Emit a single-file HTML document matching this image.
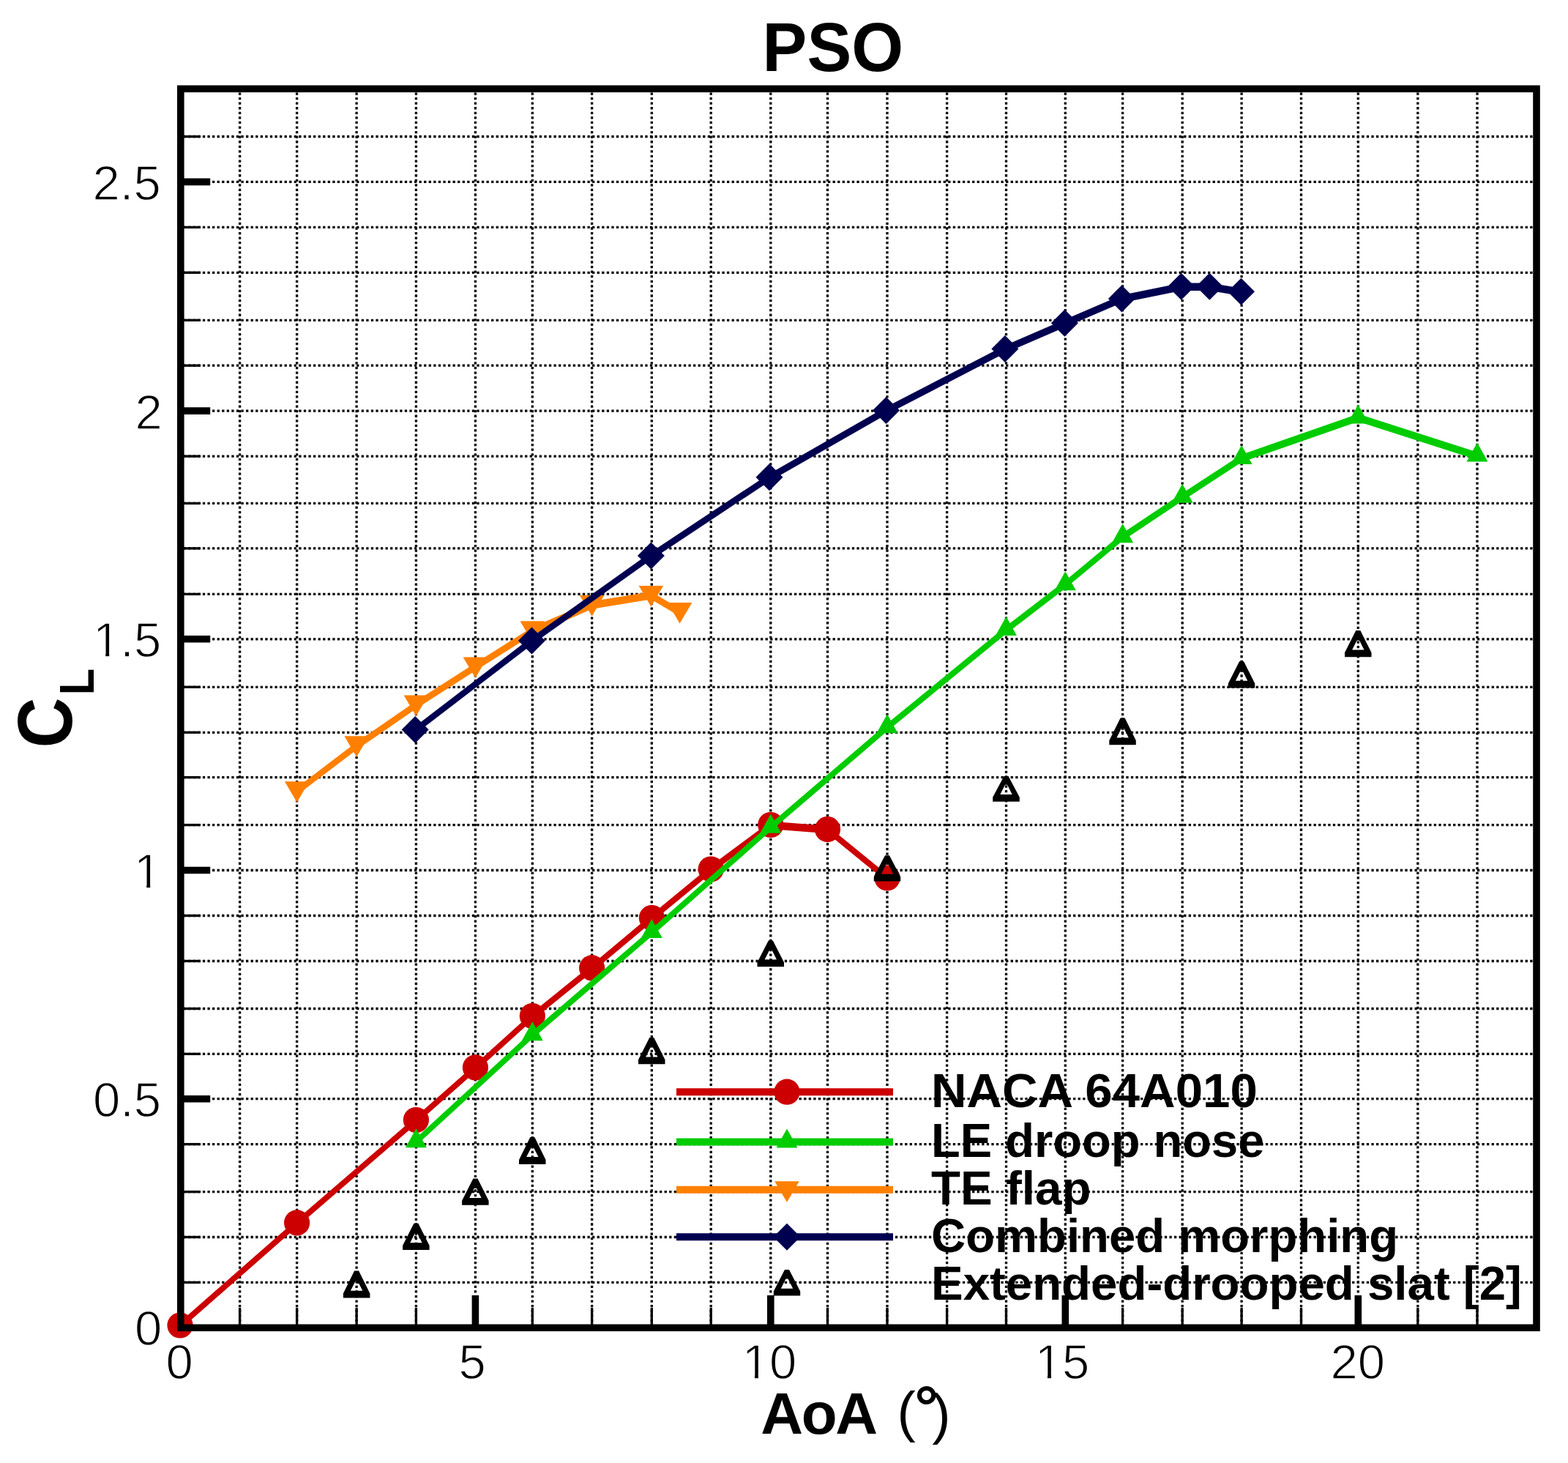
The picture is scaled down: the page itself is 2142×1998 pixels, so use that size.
<!DOCTYPE html>
<html lang="en"><head><meta charset="utf-8"><title>PSO</title>
<style>html,body{margin:0;padding:0;background:#fff}body{width:2142px;height:1998px;overflow:hidden}svg{display:block}text{font-family:"Liberation Sans",Arial,Helvetica,sans-serif;fill:#000}.b{font-weight:bold}.t{stroke:#fff;stroke-width:1.3px}</style>
</head><body>
<svg width="2142" height="1998" viewBox="0 0 2142 1998">
<rect width="2142" height="1998" fill="#fff"/>
<g stroke="#000" stroke-width="3.30" stroke-dasharray="3.285 3.285" fill="none">
<line x1="327.6" y1="126.4" x2="327.6" y2="1808.5"/>
<line x1="405.6" y1="126.4" x2="405.6" y2="1808.5"/>
<line x1="487.1" y1="126.4" x2="487.1" y2="1808.5"/>
<line x1="568.4" y1="126.4" x2="568.4" y2="1808.5"/>
<line x1="649.4" y1="126.4" x2="649.4" y2="1808.5"/>
<line x1="727.3" y1="126.4" x2="727.3" y2="1808.5"/>
<line x1="808.6" y1="126.4" x2="808.6" y2="1808.5"/>
<line x1="890.3" y1="126.4" x2="890.3" y2="1808.5"/>
<line x1="971.2" y1="126.4" x2="971.2" y2="1808.5"/>
<line x1="1052.8" y1="126.4" x2="1052.8" y2="1808.5"/>
<line x1="1130.5" y1="126.4" x2="1130.5" y2="1808.5"/>
<line x1="1212.0" y1="126.4" x2="1212.0" y2="1808.5"/>
<line x1="1293.6" y1="126.4" x2="1293.6" y2="1808.5"/>
<line x1="1374.5" y1="126.4" x2="1374.5" y2="1808.5"/>
<line x1="1455.3" y1="126.4" x2="1455.3" y2="1808.5"/>
<line x1="1533.6" y1="126.4" x2="1533.6" y2="1808.5"/>
<line x1="1615.2" y1="126.4" x2="1615.2" y2="1808.5"/>
<line x1="1696.1" y1="126.4" x2="1696.1" y2="1808.5"/>
<line x1="1777.5" y1="126.4" x2="1777.5" y2="1808.5"/>
<line x1="1855.3" y1="126.4" x2="1855.3" y2="1808.5"/>
<line x1="1936.8" y1="126.4" x2="1936.8" y2="1808.5"/>
<line x1="2018.0" y1="126.4" x2="2018.0" y2="1808.5"/>
<line x1="250.6" y1="186.5" x2="2094.2" y2="186.5"/>
<line x1="250.6" y1="248.4" x2="2094.2" y2="248.4"/>
<line x1="250.6" y1="310.4" x2="2094.2" y2="310.4"/>
<line x1="250.6" y1="372.3" x2="2094.2" y2="372.3"/>
<line x1="250.6" y1="437.3" x2="2094.2" y2="437.3"/>
<line x1="250.6" y1="499.2" x2="2094.2" y2="499.2"/>
<line x1="250.6" y1="561.1" x2="2094.2" y2="561.1"/>
<line x1="250.6" y1="623.1" x2="2094.2" y2="623.1"/>
<line x1="250.6" y1="687.4" x2="2094.2" y2="687.4"/>
<line x1="250.6" y1="748.9" x2="2094.2" y2="748.9"/>
<line x1="250.6" y1="811.4" x2="2094.2" y2="811.4"/>
<line x1="250.6" y1="872.8" x2="2094.2" y2="872.8"/>
<line x1="250.6" y1="938.3" x2="2094.2" y2="938.3"/>
<line x1="250.6" y1="1000.3" x2="2094.2" y2="1000.3"/>
<line x1="250.6" y1="1061.6" x2="2094.2" y2="1061.6"/>
<line x1="250.6" y1="1126.6" x2="2094.2" y2="1126.6"/>
<line x1="250.6" y1="1188.5" x2="2094.2" y2="1188.5"/>
<line x1="250.6" y1="1250.5" x2="2094.2" y2="1250.5"/>
<line x1="250.6" y1="1312.5" x2="2094.2" y2="1312.5"/>
<line x1="250.6" y1="1377.5" x2="2094.2" y2="1377.5"/>
<line x1="250.6" y1="1439.4" x2="2094.2" y2="1439.4"/>
<line x1="250.6" y1="1500.7" x2="2094.2" y2="1500.7"/>
<line x1="250.6" y1="1562.6" x2="2094.2" y2="1562.6"/>
<line x1="250.6" y1="1627.6" x2="2094.2" y2="1627.6"/>
<line x1="250.6" y1="1689.5" x2="2094.2" y2="1689.5"/>
<line x1="250.6" y1="1751.4" x2="2094.2" y2="1751.4"/>
</g>
<path fill="#cc0000" d="M246.0,1805.2 L405.6,1665.2 L405.6,1675.7 L246.0,1815.8 Z M405.6,1665.2 L568.4,1524.8 L568.4,1535.2 L405.6,1675.7 Z M568.4,1524.8 L649.4,1453.2 L649.4,1463.7 L568.4,1535.2 Z M649.4,1453.2 L727.3,1382.8 L727.3,1393.2 L649.4,1463.7 Z M727.3,1382.8 L808.6,1317.2 L808.6,1327.7 L727.3,1393.2 Z M808.6,1317.2 L890.4,1248.8 L890.4,1259.3 L808.6,1327.7 Z M890.4,1248.8 L971.2,1182.2 L971.2,1192.8 L890.4,1259.3 Z M971.2,1182.2 L1052.8,1121.8 L1052.8,1132.2 L971.2,1192.8 Z M1052.8,1121.8 L1130.5,1127.8 L1130.5,1138.3 L1052.8,1132.2 Z M1130.5,1127.8 L1212.0,1194.2 L1212.0,1204.8 L1130.5,1138.3 Z"/>
<circle cx="246.0" cy="1810.0" r="17.6" fill="#cc0000"/>
<circle cx="405.6" cy="1669.9" r="17.6" fill="#cc0000"/>
<circle cx="568.4" cy="1529.5" r="17.6" fill="#cc0000"/>
<circle cx="649.4" cy="1457.9" r="17.6" fill="#cc0000"/>
<circle cx="727.3" cy="1387.5" r="17.6" fill="#cc0000"/>
<circle cx="808.6" cy="1321.9" r="17.6" fill="#cc0000"/>
<circle cx="890.4" cy="1253.6" r="17.6" fill="#cc0000"/>
<circle cx="971.2" cy="1187.0" r="17.6" fill="#cc0000"/>
<circle cx="1052.8" cy="1126.5" r="17.6" fill="#cc0000"/>
<circle cx="1130.5" cy="1132.6" r="17.6" fill="#cc0000"/>
<circle cx="1212.0" cy="1199.0" r="17.6" fill="#cc0000"/>
<path fill="#00cc00" d="M568.4,1554.1 L727.3,1408.1 L727.3,1418.6 L568.4,1564.6 Z M727.3,1408.1 L890.3,1268.0 L890.3,1278.5 L727.3,1418.6 Z M890.3,1268.0 L1052.8,1124.5 L1052.8,1135.0 L890.3,1278.5 Z M1052.8,1124.5 L1212.0,988.1 L1212.0,998.6 L1052.8,1135.0 Z M1212.0,988.1 L1374.5,854.9 L1374.5,865.4 L1212.0,998.6 Z M1374.5,854.9 L1455.3,793.0 L1455.3,803.5 L1374.5,865.4 Z M1455.3,793.0 L1533.6,728.0 L1533.6,738.5 L1455.3,803.5 Z M1533.6,728.0 L1615.2,673.5 L1615.2,684.0 L1533.6,738.5 Z M1615.2,673.5 L1696.1,620.8 L1696.1,631.3 L1615.2,684.0 Z M1696.1,620.8 L1855.3,565.3 L1855.3,575.8 L1696.1,631.3 Z M1855.3,565.3 L2018.0,617.4 L2018.0,627.9 L1855.3,575.8 Z"/>
<polygon fill="#00cc00" points="568.4,1541.3 582.9,1567.3 553.9,1567.3"/>
<polygon fill="#00cc00" points="727.3,1395.3 741.8,1421.3 712.8,1421.3"/>
<polygon fill="#00cc00" points="890.3,1255.1 904.8,1281.1 875.8,1281.1"/>
<polygon fill="#00cc00" points="1052.8,1111.7 1067.3,1137.7 1038.3,1137.7"/>
<polygon fill="#00cc00" points="1212.0,975.3 1226.5,1001.3 1197.5,1001.3"/>
<polygon fill="#00cc00" points="1374.5,842.1 1389.0,868.1 1360.0,868.1"/>
<polygon fill="#00cc00" points="1455.3,780.2 1469.8,806.2 1440.8,806.2"/>
<polygon fill="#00cc00" points="1533.6,715.2 1548.1,741.2 1519.1,741.2"/>
<polygon fill="#00cc00" points="1615.2,660.7 1629.7,686.7 1600.7,686.7"/>
<polygon fill="#00cc00" points="1696.1,608.0 1710.6,634.0 1681.6,634.0"/>
<polygon fill="#00cc00" points="1855.3,552.5 1869.8,578.5 1840.8,578.5"/>
<polygon fill="#00cc00" points="2018.0,604.6 2032.5,630.6 2003.5,630.6"/>
<path fill="#ff8000" d="M405.6,1075.5 L487.1,1013.5 L487.1,1024.0 L405.6,1086.0 Z M487.1,1013.5 L568.4,957.6 L568.4,968.1 L487.1,1024.0 Z M568.4,957.6 L649.4,905.6 L649.4,916.1 L568.4,968.1 Z M649.4,905.6 L727.3,856.5 L727.3,867.0 L649.4,916.1 Z M727.3,856.5 L808.6,821.2 L808.6,831.8 L727.3,867.0 Z M808.6,821.2 L889.4,808.1 L889.4,818.6 L808.6,831.8 Z M889.4,808.1 L928.6,831.2 L928.6,841.8 L889.4,818.6 Z"/>
<polygon fill="#ff8000" points="405.6,1095.7 422.4,1067.2 388.9,1067.2"/>
<polygon fill="#ff8000" points="487.1,1033.8 503.9,1005.3 470.4,1005.3"/>
<polygon fill="#ff8000" points="568.4,977.9 585.1,949.4 551.6,949.4"/>
<polygon fill="#ff8000" points="649.4,925.9 666.1,897.4 632.6,897.4"/>
<polygon fill="#ff8000" points="727.3,876.7 744.0,848.2 710.5,848.2"/>
<polygon fill="#ff8000" points="808.6,841.5 825.4,813.0 791.9,813.0"/>
<polygon fill="#ff8000" points="889.4,828.4 906.1,799.9 872.6,799.9"/>
<polygon fill="#ff8000" points="928.6,851.5 945.4,823.0 911.9,823.0"/>
<path fill="#000050" d="M567.2,991.9 L726.4,870.1 L726.4,880.6 L567.2,1002.4 Z M726.4,870.1 L889.4,754.1 L889.4,764.6 L726.4,880.6 Z M889.4,754.1 L1051.0,647.0 L1051.0,657.5 L889.4,764.6 Z M1051.0,647.0 L1210.5,555.8 L1210.5,566.2 L1051.0,657.5 Z M1210.5,555.8 L1372.9,471.8 L1372.9,482.2 L1210.5,566.2 Z M1372.9,471.8 L1454.4,436.4 L1454.4,446.9 L1372.9,482.2 Z M1454.4,436.4 L1532.4,403.1 L1532.4,413.6 L1454.4,446.9 Z M1532.4,403.1 L1613.7,386.6 L1613.7,397.1 L1532.4,413.6 Z M1613.7,386.6 L1652.3,386.6 L1652.3,397.1 L1613.7,397.1 Z M1652.3,386.6 L1695.5,393.6 L1695.5,404.1 L1652.3,397.1 Z"/>
<polygon fill="#000050" points="567.2,978.1 585.7,996.6 567.2,1015.1 548.7,996.6"/>
<polygon fill="#000050" points="726.4,856.4 744.9,874.9 726.4,893.4 707.9,874.9"/>
<polygon fill="#000050" points="889.4,740.4 907.9,758.9 889.4,777.4 870.9,758.9"/>
<polygon fill="#000050" points="1051.0,633.3 1069.5,651.8 1051.0,670.3 1032.5,651.8"/>
<polygon fill="#000050" points="1210.5,542.0 1229.0,560.5 1210.5,579.0 1192.0,560.5"/>
<polygon fill="#000050" points="1372.9,458.0 1391.4,476.5 1372.9,495.0 1354.4,476.5"/>
<polygon fill="#000050" points="1454.4,422.7 1472.9,441.2 1454.4,459.7 1435.9,441.2"/>
<polygon fill="#000050" points="1532.4,389.4 1550.9,407.9 1532.4,426.4 1513.9,407.9"/>
<polygon fill="#000050" points="1613.7,372.8 1632.2,391.3 1613.7,409.8 1595.2,391.3"/>
<polygon fill="#000050" points="1652.3,372.8 1670.8,391.3 1652.3,409.8 1633.8,391.3"/>
<polygon fill="#000050" points="1695.5,379.8 1714.0,398.3 1695.5,416.8 1677.0,398.3"/>
<path fill="#000" fill-rule="evenodd" d="M484.1,1735.5 L490.1,1735.5 L505.4,1766.6 L505.4,1772.6 L468.9,1772.6 L468.9,1766.6 Z M485.6,1749.6 L488.6,1749.6 L495.3,1762.8 L478.9,1762.8 Z"/>
<path fill="#000" fill-rule="evenodd" d="M565.4,1670.8 L571.4,1670.8 L586.6,1701.1 L586.6,1707.1 L550.1,1707.1 L550.1,1701.1 Z M566.9,1684.1 L569.9,1684.1 L576.6,1697.3 L560.2,1697.3 Z"/>
<path fill="#000" fill-rule="evenodd" d="M646.4,1609.5 L652.4,1609.5 L667.6,1639.8 L667.6,1645.8 L631.1,1645.8 L631.1,1639.8 Z M647.9,1622.8 L650.9,1622.8 L657.6,1636.0 L641.2,1636.0 Z"/>
<path fill="#000" fill-rule="evenodd" d="M724.3,1553.0 L730.3,1553.0 L745.5,1583.9 L745.5,1589.9 L709.0,1589.9 L709.0,1583.9 Z M725.8,1566.9 L728.8,1566.9 L735.5,1580.1 L719.1,1580.1 Z"/>
<path fill="#000" fill-rule="evenodd" d="M887.3,1417.0 L893.3,1417.0 L908.5,1447.3 L908.5,1453.3 L872.0,1453.3 L872.0,1447.3 Z M888.8,1430.3 L891.8,1430.3 L898.5,1443.5 L882.1,1443.5 Z"/>
<path fill="#000" fill-rule="evenodd" d="M1049.8,1284.5 L1055.8,1284.5 L1071.0,1314.3 L1071.0,1320.3 L1034.5,1320.3 L1034.5,1314.3 Z M1051.3,1297.3 L1054.3,1297.3 L1061.0,1310.5 L1044.6,1310.5 Z"/>
<path fill="#000" fill-rule="evenodd" d="M1209.0,1168.2 L1215.0,1168.2 L1230.2,1197.6 L1230.2,1203.6 L1193.8,1203.6 L1193.8,1197.6 Z M1210.5,1180.6 L1213.5,1180.6 L1220.2,1193.8 L1203.8,1193.8 Z"/>
<path fill="#000" fill-rule="evenodd" d="M1371.5,1060.0 L1377.5,1060.0 L1392.8,1088.8 L1392.8,1094.8 L1356.2,1094.8 L1356.2,1088.8 Z M1373.0,1071.8 L1376.0,1071.8 L1382.7,1085.0 L1366.3,1085.0 Z"/>
<path fill="#000" fill-rule="evenodd" d="M1530.6,980.4 L1536.6,980.4 L1551.8,1011.2 L1551.8,1017.2 L1515.3,1017.2 L1515.3,1011.2 Z M1532.1,994.2 L1535.1,994.2 L1541.8,1007.4 L1525.4,1007.4 Z"/>
<path fill="#000" fill-rule="evenodd" d="M1693.1,903.3 L1699.1,903.3 L1714.3,933.6 L1714.3,939.6 L1677.8,939.6 L1677.8,933.6 Z M1694.6,916.6 L1697.6,916.6 L1704.3,929.8 L1687.9,929.8 Z"/>
<path fill="#000" fill-rule="evenodd" d="M1852.3,861.0 L1858.3,861.0 L1873.5,891.3 L1873.5,897.3 L1837.0,897.3 L1837.0,891.3 Z M1853.8,874.3 L1856.8,874.3 L1863.5,887.5 L1847.1,887.5 Z"/>
<line x1="924" y1="1491.2" x2="1220" y2="1491.2" stroke="#cc0000" stroke-width="9.9"/>
<circle cx="1075.0" cy="1491.2" r="17.6" fill="#cc0000"/>
<line x1="924" y1="1559.5" x2="1220" y2="1559.5" stroke="#00cc00" stroke-width="9.9"/>
<polygon fill="#00cc00" points="1075.0,1541.6 1089.5,1567.6 1060.5,1567.6"/>
<line x1="924" y1="1624.7" x2="1220" y2="1624.7" stroke="#ff8000" stroke-width="9.9"/>
<polygon fill="#ff8000" points="1075.0,1641.8 1091.8,1613.3 1058.2,1613.3"/>
<line x1="924" y1="1689.3" x2="1220" y2="1689.3" stroke="#000050" stroke-width="9.9"/>
<polygon fill="#000050" points="1075.0,1670.8 1093.5,1689.3 1075.0,1707.8 1056.5,1689.3"/>
<path fill="#000" fill-rule="evenodd" d="M1072.0,1733.9 L1078.0,1733.9 L1093.2,1763.5 L1093.2,1769.5 L1056.8,1769.5 L1056.8,1763.5 Z M1073.5,1746.5 L1076.5,1746.5 L1083.2,1759.7 L1066.8,1759.7 Z"/>
<text class="b" x="1272" y="1511.5" font-size="64.0" textLength="445.8" lengthAdjust="spacingAndGlyphs">NACA 64A010</text>
<text class="b" x="1272" y="1580.0" font-size="64.0" textLength="455.5" lengthAdjust="spacingAndGlyphs">LE droop nose</text>
<text class="b" x="1272" y="1644.9" font-size="64.0" textLength="218.4" lengthAdjust="spacingAndGlyphs">TE flap</text>
<text class="b" x="1272" y="1710.4" font-size="64.0" textLength="638.1" lengthAdjust="spacingAndGlyphs">Combined morphing</text>
<text class="b" x="1272" y="1775.3" font-size="64.0" textLength="806.8" lengthAdjust="spacingAndGlyphs">Extended-drooped slat [2]</text>
<rect x="246.8" y="121.3" width="1852.2" height="1692.0" fill="none" stroke="#000" stroke-width="9.6"/>
<g stroke="#000" fill="none">
<line x1="327.6" y1="1813.3" x2="327.6" y2="1786.0" stroke-width="3.3"/>
<line x1="405.6" y1="1813.3" x2="405.6" y2="1786.0" stroke-width="3.3"/>
<line x1="487.1" y1="1813.3" x2="487.1" y2="1786.0" stroke-width="3.3"/>
<line x1="568.4" y1="1813.3" x2="568.4" y2="1786.0" stroke-width="3.3"/>
<line x1="649.4" y1="1813.3" x2="649.4" y2="1769.0" stroke-width="9.6"/>
<line x1="727.3" y1="1813.3" x2="727.3" y2="1786.0" stroke-width="3.3"/>
<line x1="808.6" y1="1813.3" x2="808.6" y2="1786.0" stroke-width="3.3"/>
<line x1="890.3" y1="1813.3" x2="890.3" y2="1786.0" stroke-width="3.3"/>
<line x1="971.2" y1="1813.3" x2="971.2" y2="1786.0" stroke-width="3.3"/>
<line x1="1052.8" y1="1813.3" x2="1052.8" y2="1769.0" stroke-width="9.6"/>
<line x1="1130.5" y1="1813.3" x2="1130.5" y2="1786.0" stroke-width="3.3"/>
<line x1="1212.0" y1="1813.3" x2="1212.0" y2="1786.0" stroke-width="3.3"/>
<line x1="1293.6" y1="1813.3" x2="1293.6" y2="1786.0" stroke-width="3.3"/>
<line x1="1374.5" y1="1813.3" x2="1374.5" y2="1786.0" stroke-width="3.3"/>
<line x1="1455.3" y1="1813.3" x2="1455.3" y2="1769.0" stroke-width="9.6"/>
<line x1="1533.6" y1="1813.3" x2="1533.6" y2="1786.0" stroke-width="3.3"/>
<line x1="1615.2" y1="1813.3" x2="1615.2" y2="1786.0" stroke-width="3.3"/>
<line x1="1696.1" y1="1813.3" x2="1696.1" y2="1786.0" stroke-width="3.3"/>
<line x1="1777.5" y1="1813.3" x2="1777.5" y2="1786.0" stroke-width="3.3"/>
<line x1="1855.3" y1="1813.3" x2="1855.3" y2="1769.0" stroke-width="9.6"/>
<line x1="1936.8" y1="1813.3" x2="1936.8" y2="1786.0" stroke-width="3.3"/>
<line x1="2018.0" y1="1813.3" x2="2018.0" y2="1786.0" stroke-width="3.3"/>
<line x1="246.8" y1="186.5" x2="274.0" y2="186.5" stroke-width="3.3"/>
<line x1="246.8" y1="248.4" x2="287.2" y2="248.4" stroke-width="9.6"/>
<line x1="246.8" y1="310.4" x2="274.0" y2="310.4" stroke-width="3.3"/>
<line x1="246.8" y1="372.3" x2="274.0" y2="372.3" stroke-width="3.3"/>
<line x1="246.8" y1="437.3" x2="274.0" y2="437.3" stroke-width="3.3"/>
<line x1="246.8" y1="499.2" x2="274.0" y2="499.2" stroke-width="3.3"/>
<line x1="246.8" y1="561.1" x2="287.2" y2="561.1" stroke-width="9.6"/>
<line x1="246.8" y1="623.1" x2="274.0" y2="623.1" stroke-width="3.3"/>
<line x1="246.8" y1="687.4" x2="274.0" y2="687.4" stroke-width="3.3"/>
<line x1="246.8" y1="748.9" x2="274.0" y2="748.9" stroke-width="3.3"/>
<line x1="246.8" y1="811.4" x2="274.0" y2="811.4" stroke-width="3.3"/>
<line x1="246.8" y1="872.8" x2="287.2" y2="872.8" stroke-width="9.6"/>
<line x1="246.8" y1="938.3" x2="274.0" y2="938.3" stroke-width="3.3"/>
<line x1="246.8" y1="1000.3" x2="274.0" y2="1000.3" stroke-width="3.3"/>
<line x1="246.8" y1="1061.6" x2="274.0" y2="1061.6" stroke-width="3.3"/>
<line x1="246.8" y1="1126.6" x2="274.0" y2="1126.6" stroke-width="3.3"/>
<line x1="246.8" y1="1188.5" x2="287.2" y2="1188.5" stroke-width="9.6"/>
<line x1="246.8" y1="1250.5" x2="274.0" y2="1250.5" stroke-width="3.3"/>
<line x1="246.8" y1="1312.5" x2="274.0" y2="1312.5" stroke-width="3.3"/>
<line x1="246.8" y1="1377.5" x2="274.0" y2="1377.5" stroke-width="3.3"/>
<line x1="246.8" y1="1439.4" x2="274.0" y2="1439.4" stroke-width="3.3"/>
<line x1="246.8" y1="1500.7" x2="287.2" y2="1500.7" stroke-width="9.6"/>
<line x1="246.8" y1="1562.6" x2="274.0" y2="1562.6" stroke-width="3.3"/>
<line x1="246.8" y1="1627.6" x2="274.0" y2="1627.6" stroke-width="3.3"/>
<line x1="246.8" y1="1689.5" x2="274.0" y2="1689.5" stroke-width="3.3"/>
<line x1="246.8" y1="1751.4" x2="274.0" y2="1751.4" stroke-width="3.3"/>
</g>
<text class="t" x="126.6" y="273.1" font-size="67">2.5</text>
<text class="t" x="184.4" y="585.7" font-size="67">2</text>
<text class="t" x="127.0" y="897.1" font-size="67">1.5</text>
<rect x="130.3" y="891.5" width="13.9" height="6.7" fill="#fff"/>
<rect x="149.2" y="891.5" width="13.4" height="6.7" fill="#fff"/>
<text class="t" x="183.0" y="1213.3" font-size="67">1</text>
<rect x="186.3" y="1207.7" width="13.9" height="6.7" fill="#fff"/>
<rect x="205.2" y="1207.7" width="13.4" height="6.7" fill="#fff"/>
<text class="t" x="126.9" y="1525.3" font-size="67">0.5</text>
<text class="t" x="184.0" y="1836.5" font-size="67">0</text>
<text class="t" x="226.4" y="1882.8" font-size="67">0</text>
<text class="t" x="626.6" y="1882.6" font-size="67">5</text>
<text class="t" x="1013.7" y="1882.6" font-size="67">10</text>
<rect x="1017.1" y="1877.0" width="13.9" height="6.7" fill="#fff"/>
<rect x="1035.9" y="1877.0" width="13.4" height="6.7" fill="#fff"/>
<text class="t" x="1413.8" y="1882.6" font-size="67">15</text>
<rect x="1417.1" y="1877.0" width="13.9" height="6.7" fill="#fff"/>
<rect x="1436.0" y="1877.0" width="13.4" height="6.7" fill="#fff"/>
<text class="t" x="1817.5" y="1882.6" font-size="67">20</text>
<text class="b" x="1041.6" y="96.8" font-size="94" textLength="192.5" lengthAdjust="spacingAndGlyphs">PSO</text>
<text class="b" font-size="80"><tspan x="1039.2" y="1957.5" letter-spacing="-2.3">AoA</tspan><tspan> </tspan><tspan x="1225.6" y="1954.4" font-size="76" font-weight="normal">(</tspan><tspan x="1249.3" y="1950.2" font-size="82">°</tspan><tspan x="1273.2" y="1957" font-size="76" font-weight="normal">)</tspan></text>
<g transform="translate(98,1020.5) rotate(-90)"><text class="b" transform="translate(-1,0) scale(0.9,1)"><tspan x="0" y="0" font-size="106">C</tspan><tspan x="80.3" y="29.6" font-size="66">L</tspan></text></g>
</svg></body></html>
